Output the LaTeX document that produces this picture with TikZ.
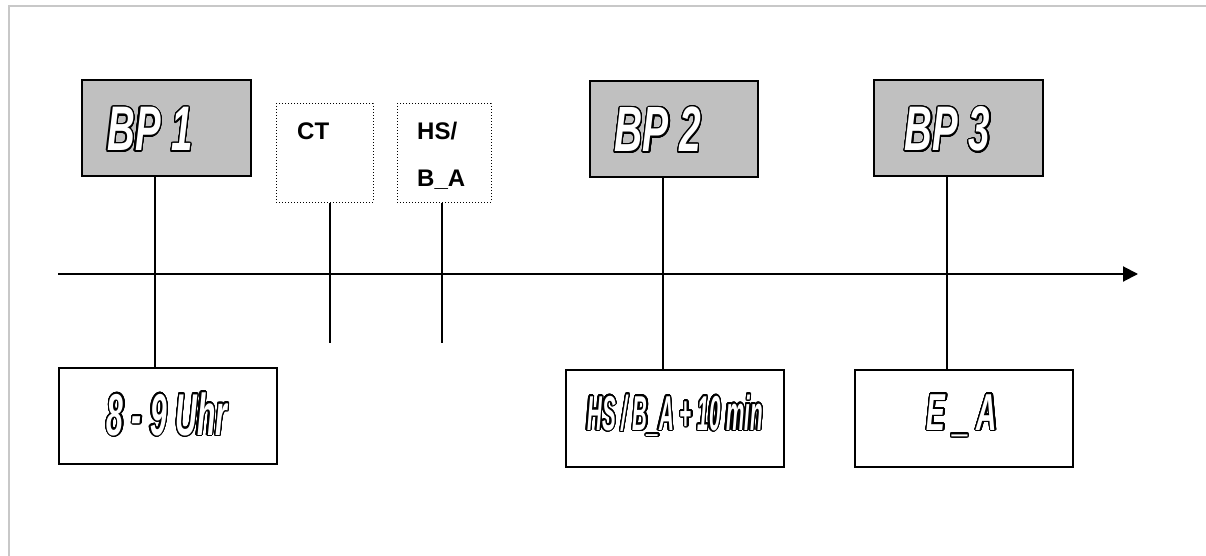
\documentclass[tikz,border=0pt]{standalone}
\usepackage{fontspec}
\setmainfont{Liberation Sans}
\newfontfamily\fbpa[FakeStretch=0.61]{Liberation Sans}
\newfontfamily\fbpb[FakeStretch=0.51]{Liberation Sans}
\newfontfamily\fbpc[FakeStretch=0.42]{Liberation Sans}
\newfontfamily\fbpd[FakeStretch=0.54]{Liberation Sans}
\usepackage{contour}
\contourlength{1.3pt}
\contournumber{32}
\usetikzlibrary{arrows.meta}
\newcommand{\outl}[3]{{#1\fontsize{#2}{#2}\selectfont\bfseries\itshape\color{white}\contour{black}{#3}}}
\begin{document}
\begin{tikzpicture}[x=1pt,y=-1pt,
  bpbox/.style={draw=black,line width=1.6pt,fill=bpgray,inner sep=0pt,minimum width=169pt,minimum height=96pt},
  timebox/.style={draw=black,line width=1.5pt,fill=white,inner sep=0pt,minimum width=218pt,minimum height=97pt},
  dotbox/.style={draw=black,dotted,line width=1pt,inner sep=0pt,minimum height=98pt},
  smalltxt/.style={font=\fontsize{24}{24}\selectfont\bfseries,inner sep=0pt,anchor=base west},
  bigtxt/.style={inner sep=0pt,anchor=base},
  conn/.style={line width=1.6pt,black}]
\definecolor{bpgray}{RGB}{192,192,192}
\definecolor{frame}{RGB}{200,200,200}
\useasboundingbox (0,0) rectangle (1206,556);
% frame
\draw[frame,line width=2.2pt] (9,556) -- (9,6) -- (1206,6);
% boxes
\node[bpbox] (bp1) at (166.5,128) {};
\node[bpbox,minimum width=168pt] (bp2) at (674,129) {};
\node[bpbox] (bp3) at (958.5,128) {};
\node[dotbox,minimum width=97pt] (ct) at (324.5,153) {};
\node[dotbox,minimum width=94pt] (hs) at (444,153) {};
\node[timebox,minimum height=96pt] (t1) at (168,416) {};
\node[timebox] (t2) at (675,418.5) {};
\node[timebox] (t3) at (964,418.5) {};
% texts
\node[bigtxt] (bp1t) at (150,151) {\outl{\fbpa}{63}{BP 1}};
\node[bigtxt] (bp2t) at (658,152) {\outl{\fbpa}{64}{BP 2}};
\node[bigtxt] (bp3t) at (947.5,151) {\outl{\fbpa}{63}{BP 3}};
\node[bigtxt] (t1t) at (167,435) {\outl{\fbpb}{59}{8 - 9 Uhr}};
\node[bigtxt] (t2t) at (675,430) {\outl{\fbpc}{49}{HS / B\_A + 10 min}};
\node[bigtxt] (t3t) at (962,430) {\outl{\fbpd}{52}{E \_ A}};
\node[smalltxt] (ctt) at (297,140) {CT};
\node[smalltxt] (hst1) at (417,140) {HS/};
\node[smalltxt] (hst2) at (417,186) {B\_A};
% axis
\coordinate (ax0) at (58,274);
\coordinate (ax1) at (1138,274);
\draw[line width=2pt,-{Triangle[length=15pt,width=15pt]}] (ax0) -- (ax1);
% connectors
\coordinate (x1) at (155,0);
\coordinate (x2) at (663,0);
\coordinate (x3) at (947,0);
\coordinate (xc) at (330,343);
\coordinate (xh) at (442,343);
\draw[conn] (bp1.south -| x1) -- (t1.north -| x1);
\draw[conn] (bp2.south -| x2) -- (t2.north -| x2);
\draw[conn] (bp3.south -| x3) -- (t3.north -| x3);
\draw[conn] (ct.south -| xc) -- (xc);
\draw[conn] (hs.south -| xh) -- (xh);
\end{tikzpicture}
\end{document}
